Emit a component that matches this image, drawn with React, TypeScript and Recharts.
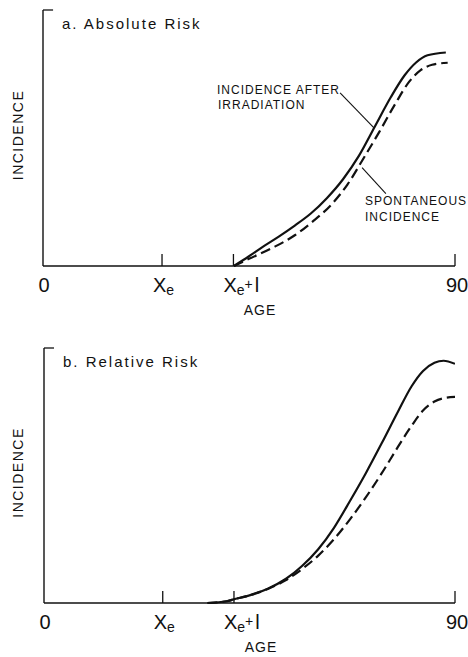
import React from 'react';
import { LineChart, Line, XAxis, YAxis, ReferenceLine } from 'recharts';

// ---- axis ticks ----
const tickValues = [0, 26, 41.6, 90];
const tickLabels = ['0', 'Xe', 'Xe+l', '90'];

// ---- a. Absolute Risk ----
const absIrrAge = [41.7, 45, 48, 51.5, 55, 58.5, 62, 65.5, 69, 72.5, 76, 79, 81.5, 84, 88];
const absIrrInc = [0, 3.8, 7.5, 11.5, 15.8, 20.5, 26.5, 33.8, 43, 54.5, 66, 74.5, 79.5, 82.3, 83.4];
const absSponAge = [41.7, 45, 50, 55, 59, 63, 66.5, 70, 73.5, 77, 80, 82.5, 85, 88.4];
const absSponInc = [0, 2.8, 7, 12, 17.5, 24, 31.8, 42, 52.5, 63.5, 72, 76.5, 78.6, 79.4];

// ---- b. Relative Risk ----
const relIrrAge = [35.8, 40, 41.5, 45, 49, 53, 56.5, 60, 63.5, 67, 70.5, 74, 77.5, 80.5, 83, 85.5, 87.5, 90];
const relIrrInc = [0, 0.7, 1.4, 3.0, 5.6, 9.5, 14.5, 21, 29.5, 40, 51, 62.8, 75, 85, 91, 94.2, 95, 93.8];
const relSponAge = [35.8, 40, 41.5, 45, 49, 53, 56.5, 60, 63.5, 67, 70.5, 74, 77.5, 80.5, 83, 85.5, 88, 90];
const relSponInc = [0, 0.7, 1.4, 3.0, 5.5, 9.0, 13.3, 18.5, 25, 32.8, 41.5, 51, 61.2, 69.5, 75.5, 79, 80.5, 80.8];

// ---- annotation leader lines (age, incidence) ----
const leaderIrr = [{ x: 64.9, y: 67.6 }, { x: 72.3, y: 54 }];
const leaderSpon = [{ x: 69.7, y: 38.4 }, { x: 74.9, y: 28.3 }];
const cornerMark = [{ x: 0, y: 100 }, { x: 2.2, y: 100 }];

const toRows = (ages: number[], vals: number[]) => ages.map((age, i) => ({ age, inc: vals[i] }));

const FONT = '"Liberation Sans", Arial, Helvetica, sans-serif';
const INK = '#111';

function AgeTick(props: any) {
  const { x, y, payload } = props;
  const i = tickValues.indexOf(payload.value);
  const label = tickLabels[i];
  const base = y + 26;
  let text: React.ReactNode;
  if (label === 'Xe') {
    text = (
      <text x={x - 9} y={base} fontSize={20} fill={INK} fontFamily={FONT}>
        X<tspan fontSize={14} dy={3}>e</tspan>
      </text>
    );
  } else if (label === 'Xe+l') {
    text = (
      <text x={x - 10} y={base} fontSize={20} fill={INK} fontFamily={FONT}>
        X<tspan fontSize={14} dy={3}>e</tspan>
        <tspan fontSize={14} dy={-6}>+</tspan>
        <tspan fontSize={20} dy={3} dx={2}>l</tspan>
      </text>
    );
  } else {
    text = (
      <text x={x + (label === '90' ? 2 : 1)} y={base} fontSize={20} fill={INK} fontFamily={FONT} textAnchor="middle">
        {label}
      </text>
    );
  }
  return (
    <g>
      {payload.value !== 0 && <line x1={x} x2={x} y1={y - 12} y2={y} stroke={INK} strokeWidth={1.3} />}
      {text}
    </g>
  );
}

function AgeTitle(props: any) {
  const vb = props.viewBox || { x: 0, y: 0 };
  return (
    <text x={vb.x + 217} y={vb.y + 49} fontSize={14} letterSpacing={1} fill={INK} fontFamily={FONT} textAnchor="middle">
      AGE
    </text>
  );
}

function IncidenceTitle(props: any) {
  const vb = props.viewBox || { x: 0, y: 0, height: 0 };
  const cy = vb.y + vb.height / 2 - 3;
  return (
    <text
      transform={`translate(${vb.x + 18}, ${cy}) rotate(-90)`}
      fontSize={14}
      letterSpacing={1.5}
      fill={INK}
      fontFamily={FONT}
      textAnchor="middle"
      dominantBaseline="central"
    >
      INCIDENCE
    </text>
  );
}

function Panel(props: {
  height: number;
  top: number;
  yWidth: number;
  irr: { age: number; inc: number }[];
  spon: { age: number; inc: number }[];
  leaders: boolean;
}) {
  const { height, top, yWidth, irr, spon, leaders } = props;
  return (
    <LineChart width={468} height={height} margin={{ top, right: 13, left: 0, bottom: 0 }}>
      <XAxis
        dataKey="age"
        type="number"
        domain={[0, 90]}
        ticks={tickValues}
        interval={0}
        allowDataOverflow
        height={54}
        tickSize={0}
        tickMargin={0}
        tickLine={false}
        tick={<AgeTick />}
        axisLine={{ stroke: INK, strokeWidth: 1.4 }}
        label={<AgeTitle />}
      />
      <YAxis
        type="number"
        domain={[0, 100]}
        width={yWidth}
        tick={false}
        tickLine={false}
        axisLine={{ stroke: INK, strokeWidth: 1.4 }}
        label={<IncidenceTitle />}
      />
      <ReferenceLine segment={cornerMark} stroke={INK} strokeWidth={1.3} ifOverflow="visible" />
      {leaders && <ReferenceLine segment={leaderIrr} stroke={INK} strokeWidth={1.1} ifOverflow="visible" />}
      {leaders && <ReferenceLine segment={leaderSpon} stroke={INK} strokeWidth={1.1} ifOverflow="visible" />}
      <Line
        data={spon}
        dataKey="inc"
        type="monotone"
        stroke={INK}
        strokeWidth={2.2}
        strokeDasharray="10 5"
        dot={false}
        activeDot={false}
        isAnimationActive={false}
      />
      <Line
        data={irr}
        dataKey="inc"
        type="monotone"
        stroke={INK}
        strokeWidth={2.2}
        dot={false}
        activeDot={false}
        isAnimationActive={false}
      />
    </LineChart>
  );
}

export default function App() {
  const textStyle = { fontFamily: FONT, fill: INK } as const;
  return (
    <div style={{ position: 'absolute', left: 0, top: 0, width: 468, height: 657, background: '#fff' }}>
      <div style={{ position: 'absolute', left: 0, top: 0 }}>
        <Panel height={320} top={10} yWidth={43} irr={toRows(absIrrAge, absIrrInc)} spon={toRows(absSponAge, absSponInc)} leaders />
      </div>
      <div style={{ position: 'absolute', left: 0, top: 330 }}>
        <Panel height={327} top={18} yWidth={44} irr={toRows(relIrrAge, relIrrInc)} spon={toRows(relSponAge, relSponInc)} leaders={false} />
      </div>
      <svg width={468} height={657} style={{ position: 'absolute', left: 0, top: 0, pointerEvents: 'none' }}>
        <text x={62} y={29} fontSize={15} letterSpacing={2} style={textStyle}>a. Absolute Risk</text>
        <text x={63} y={367} fontSize={15} letterSpacing={2} style={textStyle}>b. Relative Risk</text>
        <text x={217} y={94} fontSize={12} letterSpacing={1} style={textStyle}>INCIDENCE AFTER</text>
        <text x={218} y={109} fontSize={12} letterSpacing={1} style={textStyle}>IRRADIATION</text>
        <text x={365} y={205} fontSize={12} letterSpacing={1} style={textStyle}>SPONTANEOUS</text>
        <text x={365} y={221} fontSize={12} letterSpacing={1} style={textStyle}>INCIDENCE</text>
      </svg>
    </div>
  );
}
